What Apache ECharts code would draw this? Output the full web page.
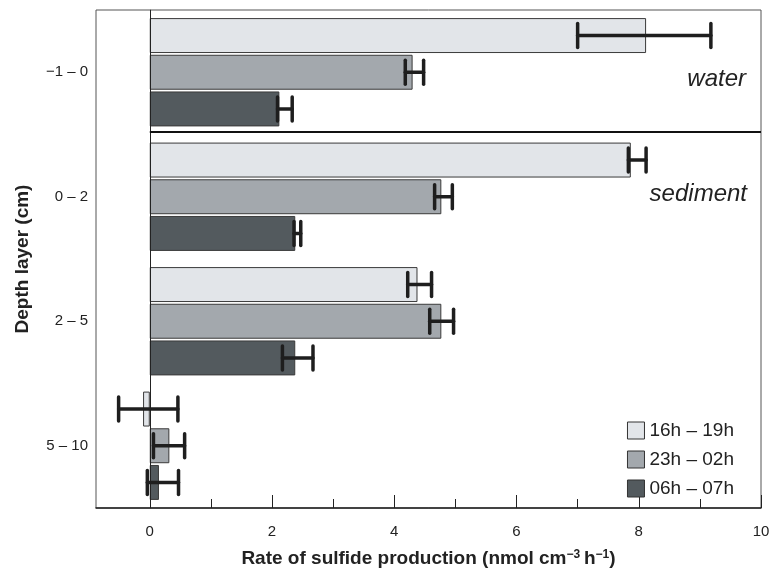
<!DOCTYPE html>
<html>
<head>
<meta charset="utf-8">
<script src="https://cdn.jsdelivr.net/npm/echarts@6/dist/echarts.min.js"></script>
<style>
  html, body { margin: 0; padding: 0; background: #fff; }
  #chart { width: 771px; height: 570px; }
</style>
</head>
<body>
<div id="chart"></div>
<script>
// depth layers, top to bottom
const layers = ["\u22121 \u2013 0", "0 \u2013 2", "2 \u2013 5", "5 \u2013 10"];
const periods = ["16h \u2013 19h", "23h \u2013 02h", "06h \u2013 07h"];

// rate of sulfide production per period
const rate16 = [8.12, 7.87, 4.38, -0.11];
const rate23 = [4.30, 4.77, 4.77, 0.32];
const rate06 = [2.12, 2.38, 2.38, 0.15];

// error bar ends
const low16 = [7.00, 7.83, 4.22, -0.51];
const high16 = [9.18, 8.12, 4.61, 0.46];
const low23 = [4.18, 4.66, 4.58, 0.06];
const high23 = [4.48, 4.95, 4.97, 0.57];
const low06 = [2.09, 2.36, 2.17, -0.04];
const high06 = [2.33, 2.47, 2.67, 0.47];

const majorTicks = [0, 2, 4, 6, 8, 10];
const minorTicks = [1, 3, 5, 7, 9];

const colors = ["#e2e5e9", "#a3a8ad", "#535a5e"];
const font = "'Liberation Sans', Arial, sans-serif";
const xMin = -0.88, xMax = 10;

const gridTop = 10, gridBottom = 62;
const plotHeight = 570 - gridTop - gridBottom;

const catGap = 0.13, barGap = 0.05;

function errorSeries(idx, lows, highs) {
  const data = lows.map((lo, i) => [lo, i, highs[i]]);
  return {
    type: "custom",
    name: "err" + idx,
    xAxisIndex: 0,
    yAxisIndex: 0,
    z: 5,
    encode: { x: [0, 2], y: 1 },
    data: data,
    renderItem: function (params, api) {
      const cat = api.value(1);
      const a = api.coord([api.value(0), cat]);
      const b = api.coord([api.value(2), cat]);
      const band = api.size([0, 1])[1];
      const w = (band * (1 - catGap)) / (3 + 2 * barGap);
      const y = a[1] + (idx - 1) * w * (1 + barGap);
      const h = 12;
      const style = { stroke: "#1e1e1e", lineWidth: 3.5, lineCap: "round" };
      return {
        type: "group",
        children: [
          { type: "line", shape: { x1: a[0], y1: y, x2: b[0], y2: y }, style: style },
          { type: "line", shape: { x1: a[0], y1: y - h, x2: a[0], y2: y + h }, style: style },
          { type: "line", shape: { x1: b[0], y1: y - h, x2: b[0], y2: y + h }, style: style }
        ]
      };
    }
  };
}

function barSeries(idx, values) {
  const s = {
    type: "bar",
    name: periods[idx],
    xAxisIndex: 0,
    yAxisIndex: 0,
    data: values,
    barCategoryGap: catGap * 100 + "%",
    barGap: barGap * 100 + "%",
    itemStyle: { color: colors[idx], borderColor: "#3a3a3a", borderWidth: 1 },
    z: 2
  };
  if (idx === 0) {
    s.markLine = {
      silent: true,
      symbol: "none",
      label: { show: false },
      lineStyle: { color: "#222", width: 1, type: "solid" },
      data: [{ xAxis: 0 }]
    };
  }
  return s;
}

const chart = echarts.init(document.getElementById("chart"));

const option = {
  animation: false,
  backgroundColor: "#fff",
  textStyle: { fontFamily: font },
  grid: {
    left: 96, right: 10, top: gridTop, bottom: gridBottom,
    outerBoundsMode: "none",
    show: true, borderColor: "#555", borderWidth: 1, backgroundColor: "transparent"
  },
  legend: {
    data: periods,
    orient: "vertical",
    right: 32,
    top: 416,
    icon: "rect",
    itemWidth: 17,
    itemHeight: 17,
    itemGap: 10,
    itemStyle: { borderColor: "#333", borderWidth: 1 },
    textStyle: { fontSize: 19, color: "#222", fontFamily: font }
  },
  xAxis: [
    {
      type: "value",
      min: xMin,
      max: xMax,
      position: "bottom",
      name: "Rate of sulfide production (nmol cm{sup|\u22123}\u2009h{sup|\u22121})",
      nameLocation: "middle",
      nameGap: 41,
      nameTextStyle: {
        fontSize: 19, fontWeight: "bold", color: "#222", fontFamily: font,
        rich: { sup: { fontSize: 12, fontWeight: "bold", verticalAlign: "top", padding: [0, 0, 8, 0], color: "#222" } }
      },
      splitLine: { show: false },
      axisLine: { show: true, onZero: false, lineStyle: { color: "#222", width: 1.5 } },
      axisTick: { show: true, inside: true, length: 13, customValues: majorTicks, lineStyle: { color: "#222", width: 1 } },
      axisLabel: { customValues: majorTicks, fontSize: 15, color: "#222", margin: 16, fontFamily: font }
    },
    {
      // minor ticks: a top axis moved down onto the bottom edge
      type: "value",
      min: xMin,
      max: xMax,
      position: "top",
      offset: -plotHeight,
      splitLine: { show: false },
      axisLine: { show: false },
      axisTick: { show: true, inside: false, length: 9, customValues: minorTicks, lineStyle: { color: "#222", width: 1 } },
      axisLabel: { show: false }
    }
  ],
  yAxis: [
    {
      type: "category",
      data: layers,
      inverse: true,
      name: "Depth layer (cm)",
      nameLocation: "middle",
      nameGap: 64,
      nameTextStyle: { fontSize: 19, fontWeight: "bold", color: "#222", fontFamily: font },
      axisLine: { show: true, lineStyle: { color: "#666", width: 1 } },
      axisTick: { show: false },
      axisLabel: { fontSize: 15, color: "#222", margin: 8, fontFamily: font }
    },
    {
      type: "value",
      min: 0,
      max: 4,
      inverse: true,
      show: false
    }
  ],
  graphic: [
    {
      type: "text", x: 746, y: 79, z: 10,
      style: { text: "water", fill: "#222", font: "italic 24px " + font, align: "right", verticalAlign: "middle" }
    },
    {
      type: "text", x: 747, y: 194, z: 10,
      style: { text: "sediment", fill: "#222", font: "italic 24px " + font, align: "right", verticalAlign: "middle" }
    }
  ],
  series: [
    barSeries(0, rate16),
    barSeries(1, rate23),
    barSeries(2, rate06),
    errorSeries(0, low16, high16),
    errorSeries(1, low23, high23),
    errorSeries(2, low06, high06),
    {
      // water / sediment boundary
      type: "line",
      name: "boundary",
      xAxisIndex: 0,
      yAxisIndex: 1,
      data: [],
      markLine: {
        silent: true,
        symbol: "none",
        label: { show: false },
        lineStyle: { color: "#111", width: 2, type: "solid" },
        data: [[{ coord: [0, 0.98] }, { coord: [10, 0.98] }]]
      }
    }
  ]
};

chart.setOption(option);
window.addEventListener("resize", chart.resize);
</script>
</body>
</html>
